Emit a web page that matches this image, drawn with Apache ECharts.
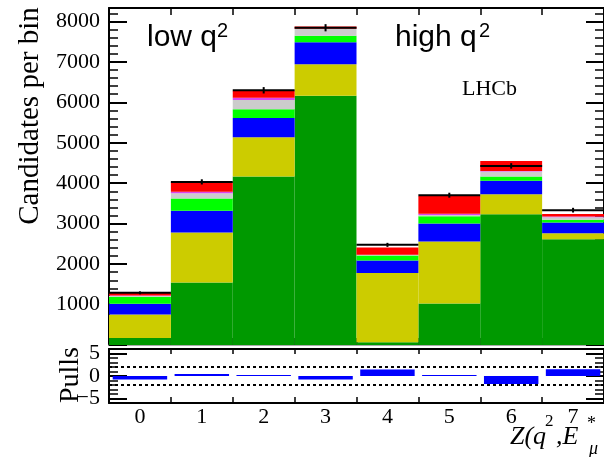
<!DOCTYPE html>
<html><head><meta charset="utf-8">
<script src="https://cdn.jsdelivr.net/npm/echarts@6/dist/echarts.min.js"></script>
<style>html,body{margin:0;padding:0;background:#fff}#c{width:604px;height:457px}</style>
</head><body><div id="c"></div>
<script>
// ---- data ----
const bins = ['0','1','2','3','4','5','6','7'];
const green      = [175,1546,4163,6163,70,1027,3234,2617];
const yellow     = [581,1234,973,775,1708,1531,494,148];
const blue       = [264,536,476,543,313,445,329,262];
const lightGreen = [165,304,215,166,121,182,106,67];
const grey       = [25,133,230,163,10,30,123,66];
const magenta    = [15,32,57,10,10,27,15,15];
const red        = [59,240,172,50,178,444,250,60];
const dataVals   = [1290,4032,6296,7842,2475,3703,4427,3333];
const dataErr    = [36,64,79,89,50,61,67,58];
const pulls      = [-0.8,0.45,0.2,-0.75,1.45,0.2,-1.75,1.5];
const pullBands  = [2,-2];
const pullTickLabels = {'5':'5','0':'0','-5':'\u22125'};

const SERIF = '"Liberation Serif","Times New Roman",serif';
const SANS = '"Liberation Sans",Arial,sans-serif';
const chart = echarts.init(document.getElementById('c'), null, {renderer:'canvas'});

const stackDefs = [
  ['green', green, '#009900'],
  ['yellow', yellow, '#cccc00'],
  ['blue', blue, '#0000ff'],
  ['lightGreen', lightGreen, '#00ff00'],
  ['grey', grey, '#cccccc'],
  ['magenta', magenta, '#dd44ee'],
  ['red', red, '#ff0000']
];

const blackLine = {show:true, onZero:false, lineStyle:{color:'#000', width:2}};
function catAxis(gi, pos, opts) {
  return Object.assign({
    type:'category', gridIndex:gi, position:pos, data:bins, boundaryGap:true,
    axisLine: blackLine,
    axisTick:{show:true, inside:true, length:7, lineStyle:{color:'#000', width:1.5}},
    axisLabel:{show:false}, splitLine:{show:false}
  }, opts||{});
}

const option = {
  animation:false,
  backgroundColor:'#fff',
  grid:[
    {left:109, top:8, width:500, height:337},
    {left:109, top:349, width:500, height:54},
    {left:109, top:353.5, width:500, height:45}
  ],
  xAxis:[
    catAxis(0,'bottom',{axisLine:{show:true, onZero:false, lineStyle:{color:'#aaaaaa', width:2}}}),
    catAxis(0,'top'),
    catAxis(1,'bottom',{axisLabel:{show:true, color:'#000', fontFamily:SERIF, fontSize:22, margin:3},
      axisTick:{show:true, inside:true, length:6, lineStyle:{color:'#000', width:1.5}}}),
    catAxis(1,'top',{axisTick:{show:true, inside:true, length:5, lineStyle:{color:'#000', width:1.5}}}),
    catAxis(2,'bottom',{show:false})
  ],
  yAxis:[
    {type:'value', gridIndex:0, position:'left', min:0, max:8330, interval:1000,
     axisLine:blackLine,
     axisTick:{show:true, inside:true, length:18, lineStyle:{color:'#000', width:2}},
     minorTick:{show:true, splitNumber:5, length:9, lineStyle:{color:'#000', width:1.5}},
     splitLine:{show:false},
     axisLabel:{color:'#000', fontFamily:SERIF, fontSize:22, margin:9, showMaxLabel:false,
       formatter:v => (v % 1000 === 0 && v > 0) ? String(v) : ''}},
    {type:'value', gridIndex:0, position:'right', min:0, max:8330, interval:1000,
     axisLine:blackLine,
     axisTick:{show:true, inside:true, length:18, lineStyle:{color:'#000', width:2}},
     minorTick:{show:true, splitNumber:5, length:9, lineStyle:{color:'#000', width:1.5}},
     splitLine:{show:false}, axisLabel:{show:false}},
    {type:'value', gridIndex:1, position:'left', min:-6, max:6, interval:1,
     axisLine:blackLine,
     axisTick:{show:true, inside:true, length:9, lineStyle:{color:'#000', width:1.5}},
     splitLine:{show:false}, axisLabel:{show:false}},
    {type:'value', gridIndex:1, position:'right', min:-6, max:6, interval:1,
     axisLine:blackLine,
     axisTick:{show:true, inside:true, length:9, lineStyle:{color:'#000', width:1.5}},
     splitLine:{show:false}, axisLabel:{show:false}},
    {type:'value', gridIndex:2, position:'left', min:-5, max:5, interval:5,
     axisLine:{show:false, onZero:false},
     axisTick:{show:true, inside:true, length:18, lineStyle:{color:'#000', width:2}},
     splitLine:{show:false},
     axisLabel:{color:'#000', fontFamily:SERIF, fontSize:22, margin:9,
       formatter:v => pullTickLabels[String(v)] || ''}},
    {type:'value', gridIndex:2, position:'right', min:-5, max:5, interval:5,
     axisLine:{show:false, onZero:false},
     axisTick:{show:true, inside:true, length:18, lineStyle:{color:'#000', width:2}},
     splitLine:{show:false}, axisLabel:{show:false}}
  ],
  series: [
    ...stackDefs.map(([name, arr, col]) => ({
      name, type:'bar', stack:'mc', xAxisIndex:0, yAxisIndex:0,
      barCategoryGap:'0%', barWidth:'100%', data:arr,
      itemStyle:{color:col}, emphasis:{disabled:true}
    })),
    {
      name:'data', type:'custom', xAxisIndex:0, yAxisIndex:0, z:10,
      data: dataVals.map((v,i)=>[i, v, dataErr[i]]),
      renderItem:(params, api) => {
        const x = api.value(0), y = api.value(1), e = api.value(2);
        const c = api.coord([x, y]);
        const w = api.size([1, 0])[0];
        const t = api.coord([x, y + e]);
        const b = api.coord([x, y - e]);
        return {type:'group', children:[
          {type:'line', shape:{x1:c[0]-w/2, y1:c[1], x2:c[0]+w/2, y2:c[1]}, style:{stroke:'#000', lineWidth:2}},
          {type:'line', shape:{x1:c[0], y1:t[1], x2:c[0], y2:b[1]}, style:{stroke:'#000', lineWidth:2}}
        ]};
      }
    },
    {
      name:'pulls', type:'bar', xAxisIndex:2, yAxisIndex:2, barCategoryGap:'12%',
      data:pulls, itemStyle:{color:'#0000ff'},
      markLine:{silent:true, symbol:'none', label:{show:false},
        lineStyle:{color:'#000', type:[3,3], width:2},
        data: pullBands.map(v=>({yAxis:v}))}
    }
  ],
  graphic:[
    {type:'text', x:30, y:116, rotation:Math.PI/2,
     style:{text:'Candidates per bin', font:'29px '+SERIF, fill:'#000', textAlign:'center', textVerticalAlign:'middle'}},
    {type:'text', x:71, y:375, rotation:Math.PI/2,
     style:{text:'Pulls', font:'28px '+SERIF, fill:'#000', textAlign:'center', textVerticalAlign:'middle'}},
    {type:'text', x:147, y:23, style:{text:'low q', font:'30px '+SANS, fill:'#000', textVerticalAlign:'top'}},
    {type:'text', x:217, y:21, style:{text:'2', font:'20px '+SANS, fill:'#000', textVerticalAlign:'top'}},
    {type:'text', x:395, y:23, style:{text:'high q', font:'30px '+SANS, fill:'#000', textVerticalAlign:'top'}},
    {type:'text', x:479, y:21, style:{text:'2', font:'20px '+SANS, fill:'#000', textVerticalAlign:'top'}},
    {type:'text', x:462, y:78, style:{text:'LHCb', font:'22px '+SERIF, fill:'#000', textVerticalAlign:'top'}},
    {type:'text', x:510, y:424, style:{text:'Z(q', font:'italic 26px '+SERIF, fill:'#000', textVerticalAlign:'top'}},
    {type:'text', x:545, y:413, style:{text:'2', font:'17px '+SERIF, fill:'#000', textVerticalAlign:'top'}},
    {type:'text', x:556, y:424, style:{text:',E', font:'italic 26px '+SERIF, fill:'#000', textVerticalAlign:'top'}},
    {type:'text', x:587, y:415, style:{text:'*', font:'18px '+SERIF, fill:'#000', textVerticalAlign:'top'}},
    {type:'text', x:589, y:440, style:{text:'\u03bc', font:'italic 18px '+SERIF, fill:'#000', textVerticalAlign:'top'}}
  ]
};
chart.setOption(option);
</script>
</body></html>
